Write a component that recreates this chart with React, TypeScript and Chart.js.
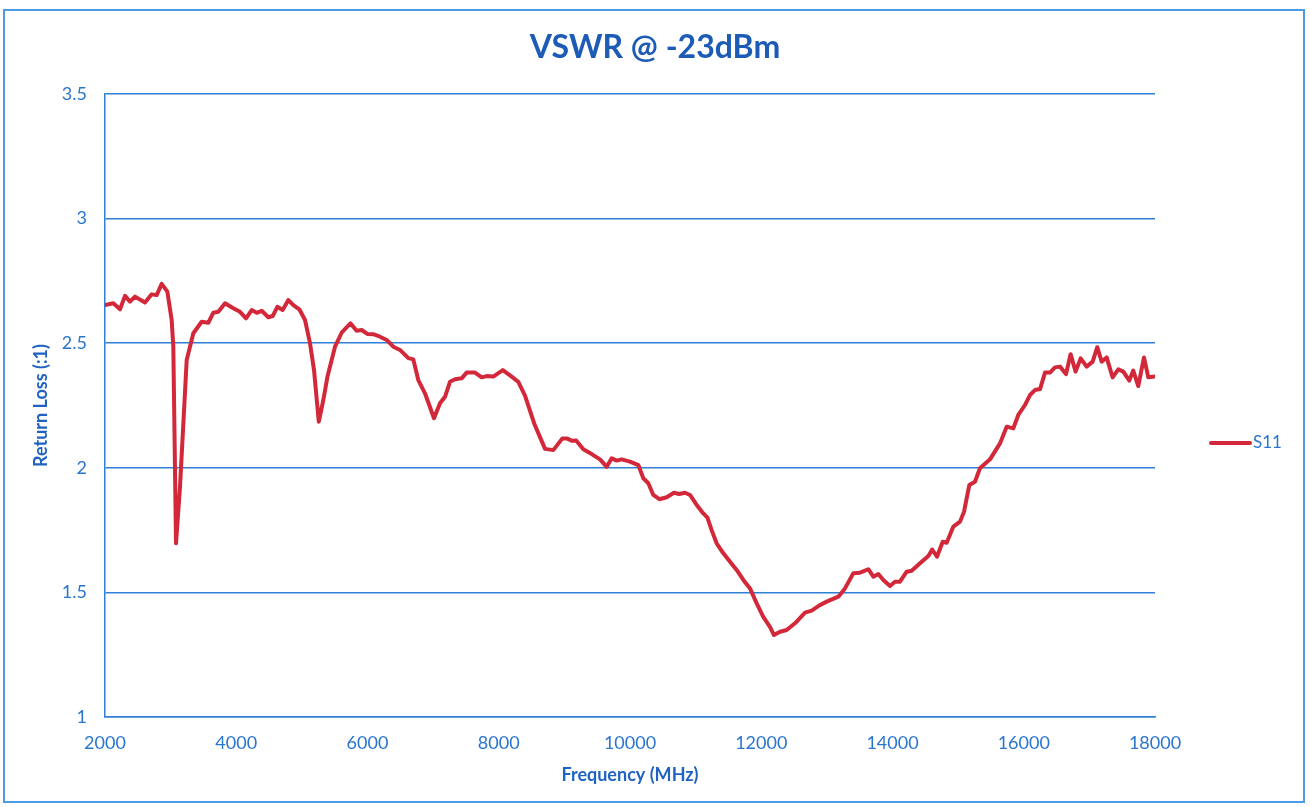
import React, { useEffect, useRef } from "react";
import { Chart, registerables, layouts } from "chart.js";

Chart.register(...registerables);

const chartTitle = "VSWR @ -23dBm";
const seriesName = "S11";
const xAxisTitle = "Frequency (MHz)";
const yAxisTitle = "Return Loss (:1)";

const frequencies: number[] = [
  2000, 2127, 2229, 2305, 2381, 2457, 2610, 2711, 2787, 2864, 2950, 3016, 3041, 3082, 3143, 3245,
  3346, 3473, 3574, 3650, 3727, 3829, 3955, 4057, 4149, 4235, 4312, 4388, 4489, 4555, 4626, 4707,
  4794, 4870, 4961, 5048, 5124, 5185, 5258, 5327, 5390, 5505, 5606, 5740, 5834, 5911, 5997, 6088,
  6190, 6292, 6393, 6495, 6622, 6698, 6774, 6876, 7013, 7105, 7181, 7257, 7333, 7435, 7511, 7638,
  7740, 7816, 7917, 8062, 8197, 8298, 8400, 8540, 8705, 8831, 8970, 9035, 9111, 9180, 9289, 9416,
  9543, 9645, 9721, 9797, 9873, 10000, 10127, 10203, 10279, 10355, 10447, 10559, 10670, 10751,
  10838, 10914, 11016, 11117, 11180, 11244, 11320, 11422, 11524, 11625, 11727, 11829, 11930, 12031,
  12133, 12194, 12286, 12387, 12514, 12667, 12768, 12870, 12997, 13175, 13276, 13403, 13505, 13632,
  13708, 13784, 13860, 13962, 14038, 14114, 14216, 14292, 14419, 14546, 14605, 14678, 14765, 14826,
  14927, 15029, 15090, 15171, 15257, 15333, 15486, 15638, 15740, 15841, 15917, 16019, 16095, 16171,
  16248, 16324, 16400, 16476, 16552, 16644, 16714, 16790, 16867, 16958, 17050, 17120, 17187, 17263,
  17354, 17441, 17517, 17608, 17669, 17745, 17832, 17898, 18000,
];

const vswr: number[] = [
  2.653, 2.66, 2.636, 2.69, 2.667, 2.687, 2.663, 2.696, 2.693, 2.738, 2.707, 2.593, 2.486, 1.697, 1.924, 2.433,
  2.54, 2.586, 2.582, 2.622, 2.626, 2.66, 2.64, 2.626, 2.6, 2.633, 2.622, 2.63, 2.604, 2.609, 2.646, 2.633,
  2.673, 2.653, 2.636, 2.593, 2.5, 2.392, 2.185, 2.272, 2.366, 2.486, 2.542, 2.58, 2.55, 2.553, 2.537, 2.536,
  2.526, 2.513, 2.486, 2.473, 2.44, 2.435, 2.352, 2.299, 2.199, 2.259, 2.285, 2.345, 2.355, 2.359, 2.382, 2.382,
  2.363, 2.368, 2.366, 2.392, 2.366, 2.345, 2.29, 2.178, 2.076, 2.071, 2.118, 2.118, 2.109, 2.11, 2.074, 2.055,
  2.034, 2.004, 2.038, 2.029, 2.034, 2.025, 2.011, 1.958, 1.938, 1.891, 1.874, 1.882, 1.9, 1.895,
  1.9, 1.891, 1.851, 1.817, 1.8, 1.75, 1.697, 1.657, 1.623, 1.59, 1.55, 1.516, 1.456, 1.402,
  1.362, 1.329, 1.342, 1.349, 1.376, 1.419, 1.427, 1.445, 1.463, 1.483, 1.516, 1.577, 1.579, 1.593,
  1.563, 1.574, 1.55, 1.526, 1.543, 1.543, 1.583, 1.587, 1.617, 1.646, 1.672, 1.643, 1.703, 1.699,
  1.764, 1.784, 1.824, 1.931, 1.944, 1.998, 2.034, 2.098, 2.165, 2.158, 2.212, 2.252, 2.292, 2.312,
  2.316, 2.382, 2.382, 2.403, 2.406, 2.376, 2.456, 2.386, 2.439, 2.406, 2.426, 2.484, 2.426, 2.443,
  2.363, 2.395, 2.386, 2.35, 2.39, 2.328, 2.443, 2.363, 2.366,
];

const LINE_COLOR = "#d3283a";
const TITLE_COLOR = "#1c5bb6";
const TICK_COLOR = "#2a76cf";
const AXIS_TITLE_COLOR = "#1f62c2";
const GRID_COLOR = "#2f7fd6";
const FONT = "Lato, 'Open Sans', sans-serif";

const W = 1310;
const H = 807;
const LEGEND_WIDTH = 155;

const framePlugin = {
  id: "frame",
  beforeDraw(chart: any) {
    const ctx = chart.ctx;
    ctx.save();
    ctx.fillStyle = "#ffffff";
    ctx.fillRect(0, 0, chart.width, chart.height);
    ctx.strokeStyle = "#4f9ae4";
    ctx.lineWidth = 2;
    ctx.strokeRect(4, 10, 1300, 792);
    ctx.restore();
  },
};

// A right-hand layout box that reserves space for, and draws, the series legend.
const sideLegendPlugin = {
  id: "sideLegend",
  beforeInit(chart: any) {
    const box: any = {
      position: "right",
      weight: 100,
      fullSize: false,
      options: {},
      width: LEGEND_WIDTH,
      height: 0,
      isHorizontal() {
        return false;
      },
      update(_maxW: number, maxH: number) {
        box.width = LEGEND_WIDTH;
        box.height = maxH;
      },
      draw() {
        const ctx = chart.ctx;
        const ds = chart.data.datasets[0];
        const y = 443;
        const x0 = box.left + 56;
        ctx.save();
        ctx.strokeStyle = ds.borderColor;
        ctx.lineWidth = 4;
        ctx.lineCap = "round";
        ctx.beginPath();
        ctx.moveTo(x0, y);
        ctx.lineTo(x0 + 39, y);
        ctx.stroke();
        ctx.fillStyle = TICK_COLOR;
        ctx.font = `17px ${FONT}`;
        ctx.textBaseline = "middle";
        ctx.textAlign = "left";
        ctx.fillText(ds.label, x0 + 42, y);
        ctx.restore();
      },
    };
    layouts.addBox(chart, box);
  },
};

export default function App() {
  const canvasRef = useRef<HTMLCanvasElement | null>(null);

  useEffect(() => {
    const canvas = canvasRef.current;
    if (!canvas) return;
    const points = frequencies.map((f, i) => ({ x: f, y: vswr[i] }));
    const chart = new Chart(canvas, {
      type: "line",
      data: {
        datasets: [
          {
            label: seriesName,
            data: points,
            borderColor: LINE_COLOR,
            backgroundColor: LINE_COLOR,
            borderWidth: 4,
            pointRadius: 0,
            tension: 0,
            borderJoinStyle: "round",
            borderCapStyle: "round",
          },
        ],
      },
      options: {
        responsive: false,
        animation: false,
        layout: { padding: 0 },
        plugins: {
          legend: { display: false },
          tooltip: { enabled: false },
          title: {
            display: true,
            text: chartTitle,
            color: TITLE_COLOR,
            font: { family: FONT, size: 32, weight: "bold" },
            padding: { top: 28, bottom: 27.6 },
          },
        },
        scales: {
          x: {
            type: "linear",
            min: 2000,
            max: 18000,
            afterFit(scale: any) {
              scale.height = 90;
            },
            ticks: {
              stepSize: 2000,
              color: TICK_COLOR,
              font: { family: FONT, size: 18 },
              padding: 15,
              maxRotation: 0,
              callback: (v: any) => String(v),
            },
            grid: { display: false, drawTicks: false },
            border: { display: true, color: GRID_COLOR, width: 1.5 },
            title: {
              display: true,
              text: xAxisTitle,
              color: AXIS_TITLE_COLOR,
              font: { family: FONT, size: 18, weight: "bold" },
              padding: { top: 0, bottom: 21 },
            },
          },
          y: {
            type: "linear",
            min: 1,
            max: 3.5,
            afterFit(scale: any) {
              scale.width = 105;
            },
            ticks: {
              stepSize: 0.5,
              color: TICK_COLOR,
              font: { family: FONT, size: 18 },
              padding: 18,
              callback: (v: any) => String(v),
            },
            grid: { display: true, drawTicks: false, color: GRID_COLOR, lineWidth: 1.5 },
            border: { display: true, color: GRID_COLOR, width: 1.5 },
            title: {
              display: true,
              text: yAxisTitle,
              color: AXIS_TITLE_COLOR,
              font: { family: FONT, size: 18, weight: "bold" },
              padding: { top: 30, bottom: 0 },
            },
          },
        },
      },
      plugins: [framePlugin, sideLegendPlugin],
    });
    return () => chart.destroy();
  }, []);

  return (
    <div style={{ position: "absolute", left: 0, top: 0, width: W, height: H, background: "#fff" }}>
      <canvas ref={canvasRef} width={W} height={H} style={{ display: "block", width: W, height: H }} />
    </div>
  );
}
